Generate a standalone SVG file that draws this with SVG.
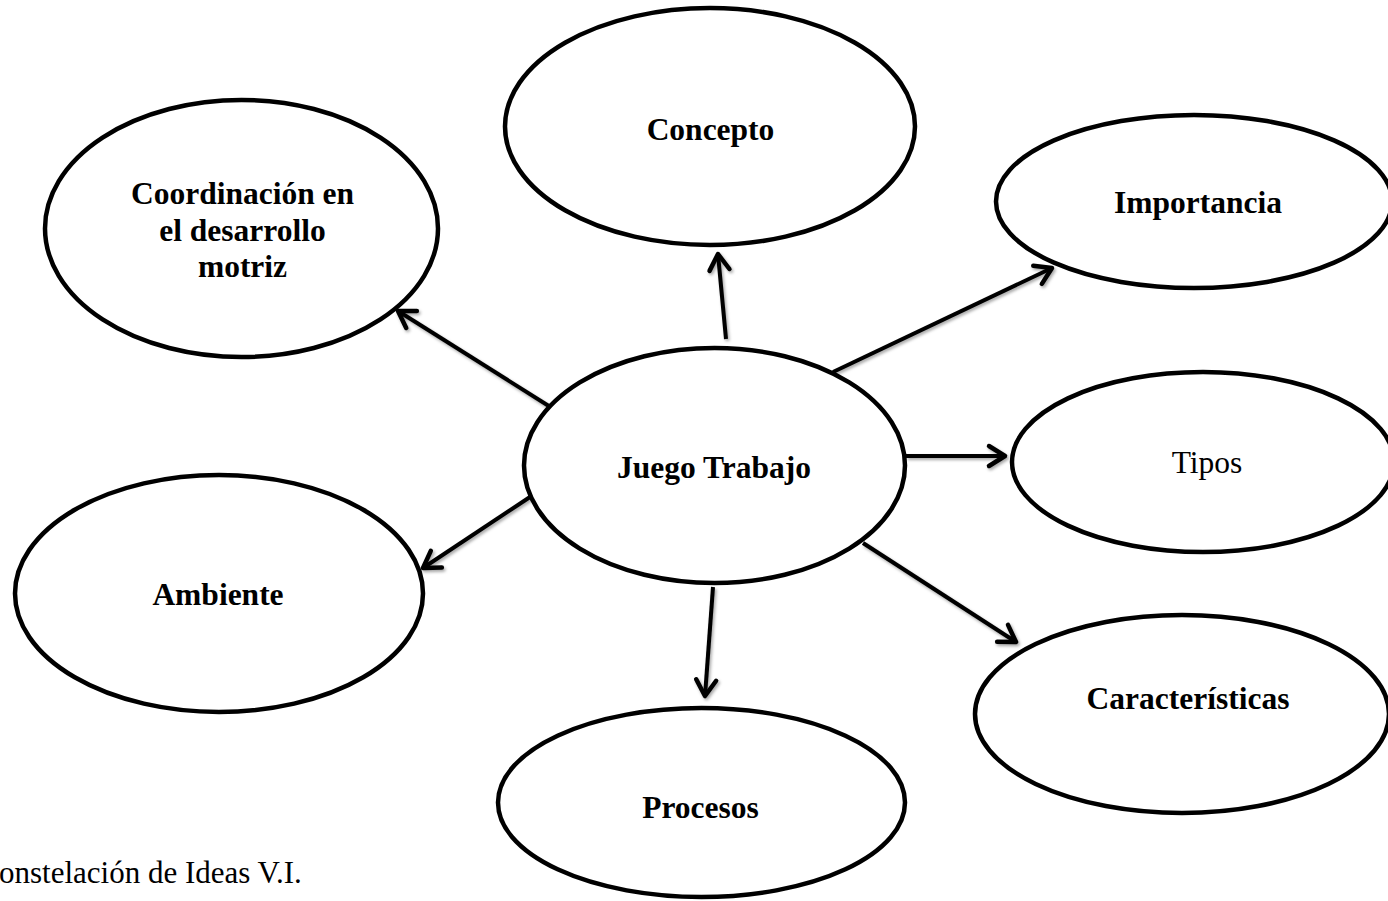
<svg xmlns="http://www.w3.org/2000/svg" width="1388" height="901" viewBox="0 0 1388 901">
<defs>
<style>
.node ellipse{fill:#fff;stroke:#000;stroke-width:4.5}
.lbl{font-family:"Liberation Serif","Times New Roman",serif;font-size:31.5px;font-weight:bold;fill:#000;text-anchor:middle}
.reg{font-weight:normal}
.conn line{stroke:#000;stroke-width:4;marker-end:url(#arr)}
.cap{font-family:"Liberation Serif","Times New Roman",serif;font-size:31px;fill:#000}
</style>
<marker id="arr" markerUnits="userSpaceOnUse" markerWidth="40" markerHeight="40" viewBox="-25 -20 40 40" refX="0" refY="0" orient="auto">
<path d="M-16,-10 L0,0 L-16,10" fill="none" stroke="#000" stroke-width="4.5" stroke-linejoin="round" stroke-linecap="round"/>
</marker>
<filter id="sh" filterUnits="userSpaceOnUse" x="0" y="0" width="1388" height="901">
<feDropShadow dx="1.5" dy="2" stdDeviation="1.5" flood-color="#000" flood-opacity="0.35"/>
</filter>
</defs>
<rect width="1388" height="901" fill="#fff"/>
<g id="connectors" class="conn" filter="url(#sh)">
<line x1="726" y1="339" x2="718" y2="254"/>
<line x1="552" y1="408" x2="398" y2="311"/>
<line x1="833" y1="372" x2="1052" y2="268"/>
<line x1="906" y1="456" x2="1005" y2="456"/>
<line x1="530" y1="497" x2="423" y2="568"/>
<line x1="863" y1="543" x2="1016" y2="642"/>
<line x1="713" y1="587" x2="705" y2="696"/>
</g>
<g id="n-concepto" class="node">
<ellipse cx="710" cy="126.5" rx="205" ry="118.5"/>
<text class="lbl" x="710.5" y="140">Concepto</text>
</g>
<g id="n-coordinacion" class="node">
<ellipse cx="241.5" cy="228.5" rx="196.5" ry="128.5"/>
<text class="lbl" x="242.5" y="204">Coordinación en</text>
<text class="lbl" x="242.5" y="240.5">el desarrollo</text>
<text class="lbl" x="242.5" y="277">motriz</text>
</g>
<g id="n-importancia" class="node">
<ellipse cx="1194" cy="201.5" rx="198" ry="86.5"/>
<text class="lbl" x="1198" y="213">Importancia</text>
</g>
<g id="n-juego" class="node">
<ellipse cx="714.5" cy="465.5" rx="190.5" ry="117.5"/>
<text class="lbl" x="714" y="478">Juego Trabajo</text>
</g>
<g id="n-tipos" class="node">
<ellipse cx="1203" cy="462" rx="191" ry="90"/>
<text class="lbl reg" x="1207" y="473">Tipos</text>
</g>
<g id="n-ambiente" class="node">
<ellipse cx="219" cy="593.5" rx="204" ry="118.5"/>
<text class="lbl" x="218" y="605">Ambiente</text>
</g>
<g id="n-caracteristicas" class="node">
<ellipse cx="1182" cy="714" rx="207" ry="99"/>
<text class="lbl" x="1188" y="709">Características</text>
</g>
<g id="n-procesos" class="node">
<ellipse cx="701.5" cy="802.5" rx="203.5" ry="94.5"/>
<text class="lbl" x="700.5" y="818">Procesos</text>
</g>
<text class="cap" x="-1" y="883">onstelación de Ideas V.I.</text>
</svg>
